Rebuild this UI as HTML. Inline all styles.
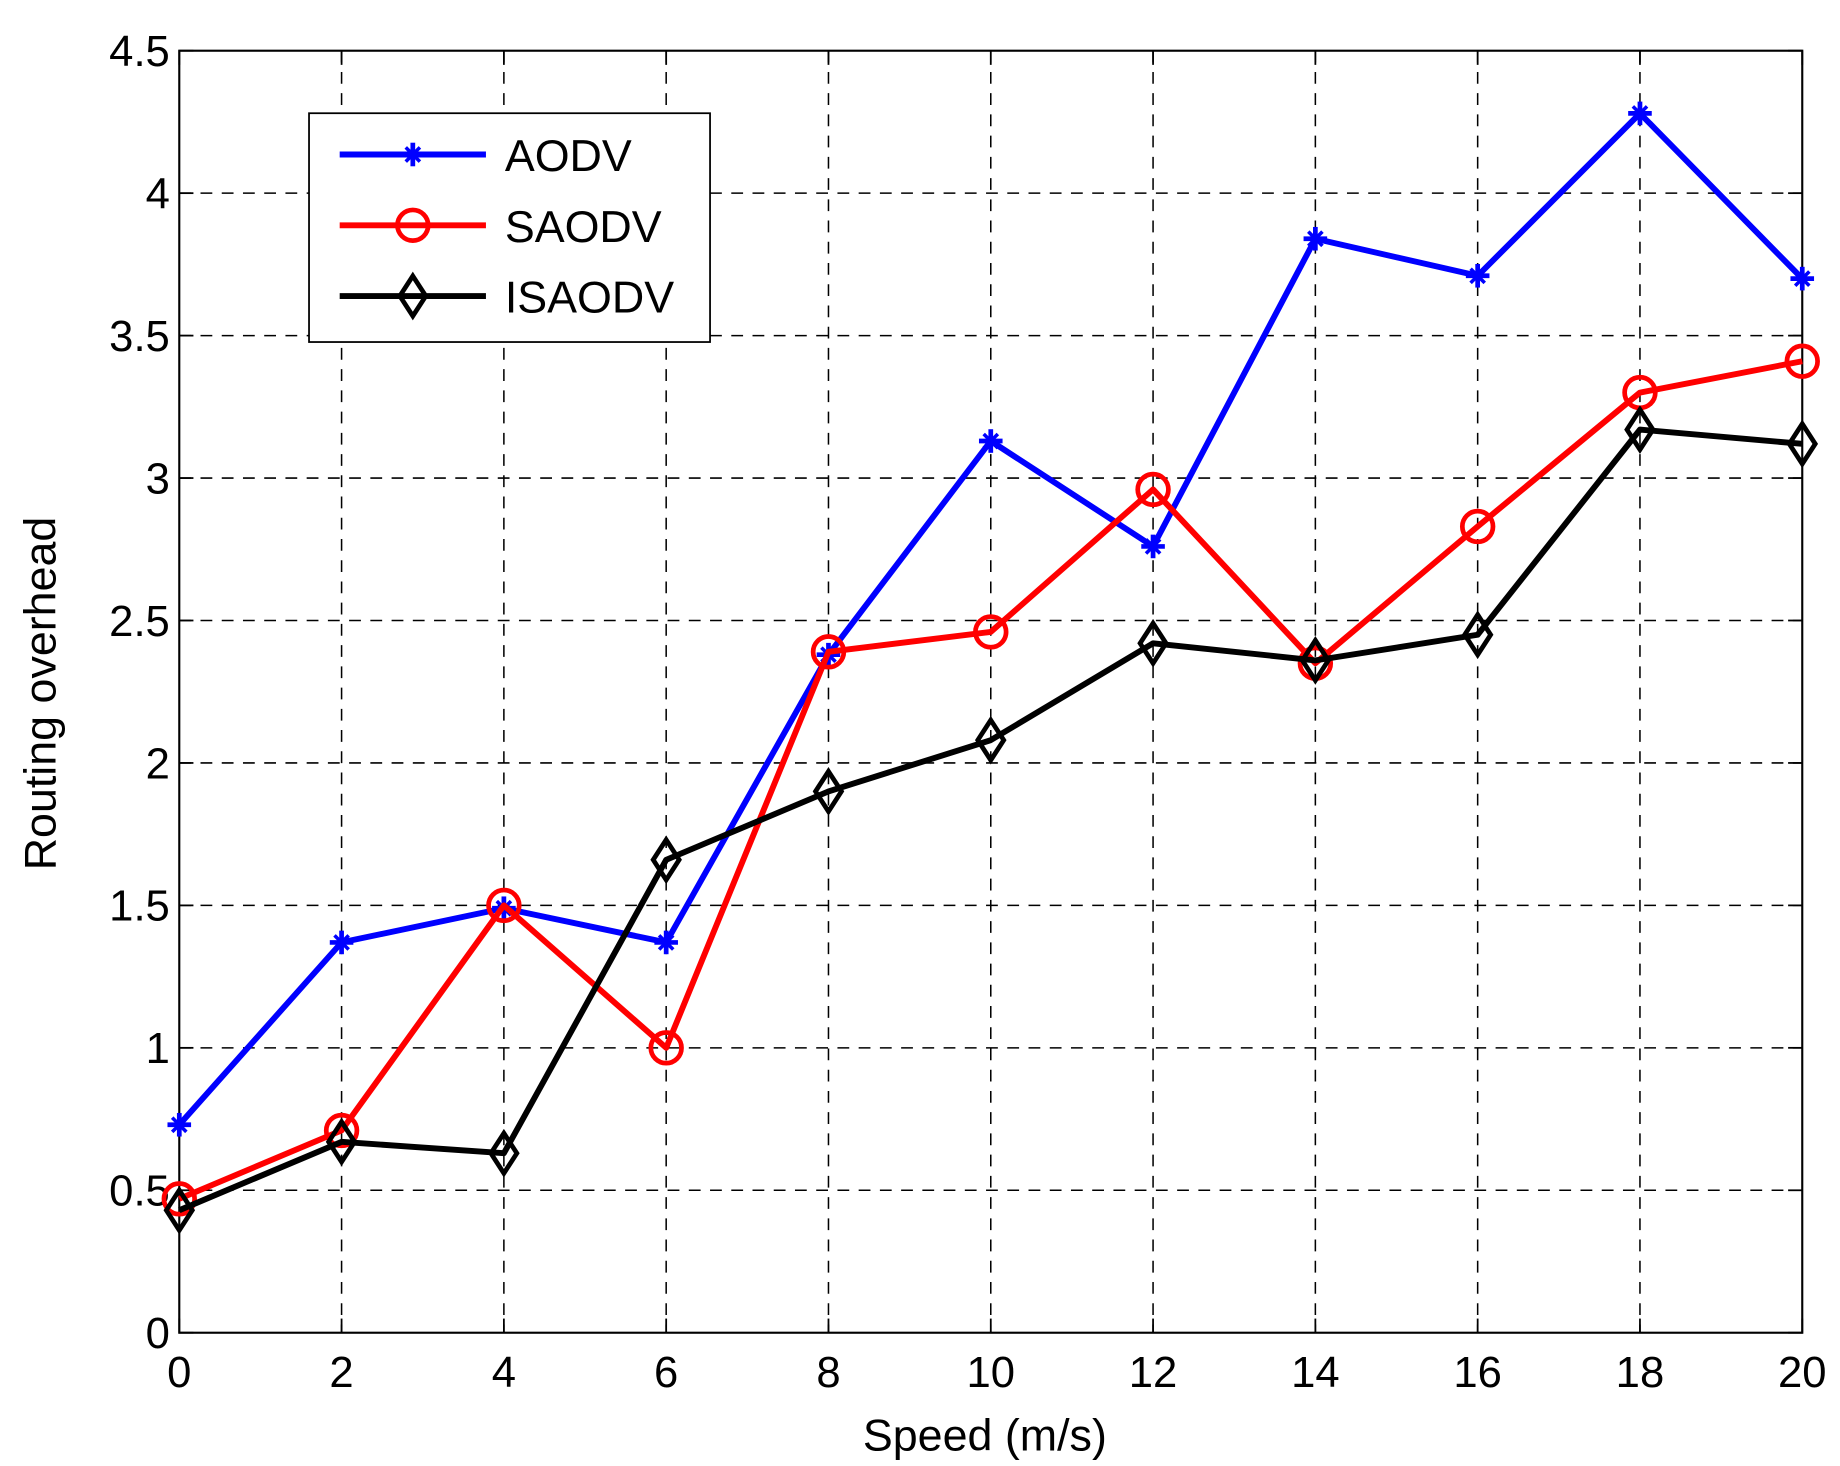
<!DOCTYPE html>
<html><head><meta charset="utf-8"><style>
html,body{margin:0;padding:0;background:#fff;}
svg{display:block;font-family:"Liberation Sans",Arial,sans-serif;}
</style></head><body>
<svg id="chart" width="1840" height="1466" viewBox="0 0 1560 1243" preserveAspectRatio="none" xmlns="http://www.w3.org/2000/svg"></svg>
<script>
const xValues=[0,2,4,6,8,10,12,14,16,18,20];
const aodv=[0.73,1.37,1.49,1.37,2.38,3.13,2.76,3.84,3.71,4.28,3.70];
const saodv=[0.47,0.71,1.50,1.00,2.39,2.46,2.96,2.35,2.83,3.30,3.41];
const isaodv=[0.43,0.67,0.63,1.66,1.90,2.08,2.42,2.36,2.45,3.17,3.12];
const xTicks=[0,2,4,6,8,10,12,14,16,18,20];
const yTicks=[0,0.5,1,1.5,2,2.5,3,3.5,4,4.5];
const yTickLabels=["0","0.5","1","1.5","2","2.5","3","3.5","4","4.5"];
const seriesNames=["AODV","SAODV","ISAODV"];

const svg=document.getElementById('chart');
const NS='http://www.w3.org/2000/svg';
const L=152,R=1528,T=43,B=1130;
const xs=v=>L+(v-0)/(20-0)*(R-L);
const ys=v=>B-(v-0)/(4.5-0)*(B-T);
function mk(tag,attrs,parent){const e=document.createElementNS(NS,tag);for(const k in attrs)e.setAttribute(k,attrs[k]);(parent||svg).appendChild(e);return e;}

const grid=mk('g',{});


xTicks.forEach(t=>{if(t>0&&t<20){const l=mk('line',{x1:xs(t),x2:xs(t),y1:T,y2:B,stroke:'#000','stroke-width':1.3,'stroke-dasharray':'10,8'},grid);

}});
yTicks.forEach(t=>{if(t>0&&t<4.5){const l=mk('line',{x1:L,x2:R,y1:ys(t),y2:ys(t),stroke:'#000','stroke-width':1.3,'stroke-dasharray':'10,8'},grid);

}});

const frame=mk('rect',{x:L,y:T,width:R-L,height:B-T,fill:'none',stroke:'#000','stroke-width':1.8});



xTicks.forEach(t=>{
  mk('line',{x1:xs(t),x2:xs(t),y1:B,y2:B-12,stroke:'#000','stroke-width':1.5});
  mk('line',{x1:xs(t),x2:xs(t),y1:T,y2:T+12,stroke:'#000','stroke-width':1.5});
  const tx=mk('text',{x:xs(t),y:B+46,'font-size':37,'text-anchor':'middle'});tx.textContent=t;
  
  
});
yTicks.forEach((t,i)=>{
  mk('line',{x1:L,x2:L+12,y1:ys(t),y2:ys(t),stroke:'#000','stroke-width':1.5});
  mk('line',{x1:R,x2:R-12,y1:ys(t),y2:ys(t),stroke:'#000','stroke-width':1.5});
  const tx=mk('text',{x:L-8,y:ys(t)+13,'font-size':37,'text-anchor':'end'});tx.textContent=yTickLabels[i];
  
  
});
const xl=mk('text',{x:835,y:1230,'font-size':38,'text-anchor':'middle'});xl.textContent='Speed (m/s)';


const yl=mk('text',{x:0,y:0,'font-size':38,'text-anchor':'middle',transform:'translate(47,588) rotate(-90)'});yl.textContent='Routing overhead';



function marker(g,type,x,y,color){
  if(type==='star'){
    mk('line',{x1:x-10,x2:x+10,y1:y,y2:y,stroke:color,'stroke-width':4},g);
    mk('line',{x1:x,x2:x,y1:y-10,y2:y+10,stroke:color,'stroke-width':4},g);
    mk('line',{x1:x-6,x2:x+6,y1:y-6,y2:y+6,stroke:color,'stroke-width':3},g);
    mk('line',{x1:x-6,x2:x+6,y1:y+6,y2:y-6,stroke:color,'stroke-width':3},g);
  }else if(type==='circle'){
    mk('circle',{cx:x,cy:y,r:13,fill:'none',stroke:color,'stroke-width':4},g);
  }else{
    mk('polygon',{points:`${x},${y-17} ${x+11},${y} ${x},${y+17} ${x-11},${y}`,fill:'none',stroke:color,'stroke-width':4},g);
  }
}
const series=[[aodv,'#0000ff','star'],[saodv,'#ff0000','circle'],[isaodv,'#000000','diamond']];
const sNames=['series-aodv','series-saodv','series-isaodv'];
series.forEach(([data,color,m],si)=>{
  const g=mk('g',{});
  
  
  mk('polyline',{points:data.map((v,i)=>xs(xValues[i])+','+ys(v)).join(' '),fill:'none',stroke:color,'stroke-width':5,'stroke-linejoin':'round'},g);
  data.forEach((v,i)=>marker(g,m,xs(xValues[i]),ys(v),color));
});

const lg=mk('g',{});


mk('rect',{x:262,y:96,width:340,height:194,fill:'#fff',stroke:'#000','stroke-width':1.5},lg);
series.forEach(([d,color,m],i)=>{
  const y=131+i*60;
  const e=mk('g',{},lg);
  
  
  mk('line',{x1:288,x2:412,y1:y,y2:y,stroke:color,'stroke-width':5},e);
  marker(e,m,350,y,color);
  const t=mk('text',{x:428,y:y+14,'font-size':38},e);t.textContent=seriesNames[i];
});
</script>
</body></html>
